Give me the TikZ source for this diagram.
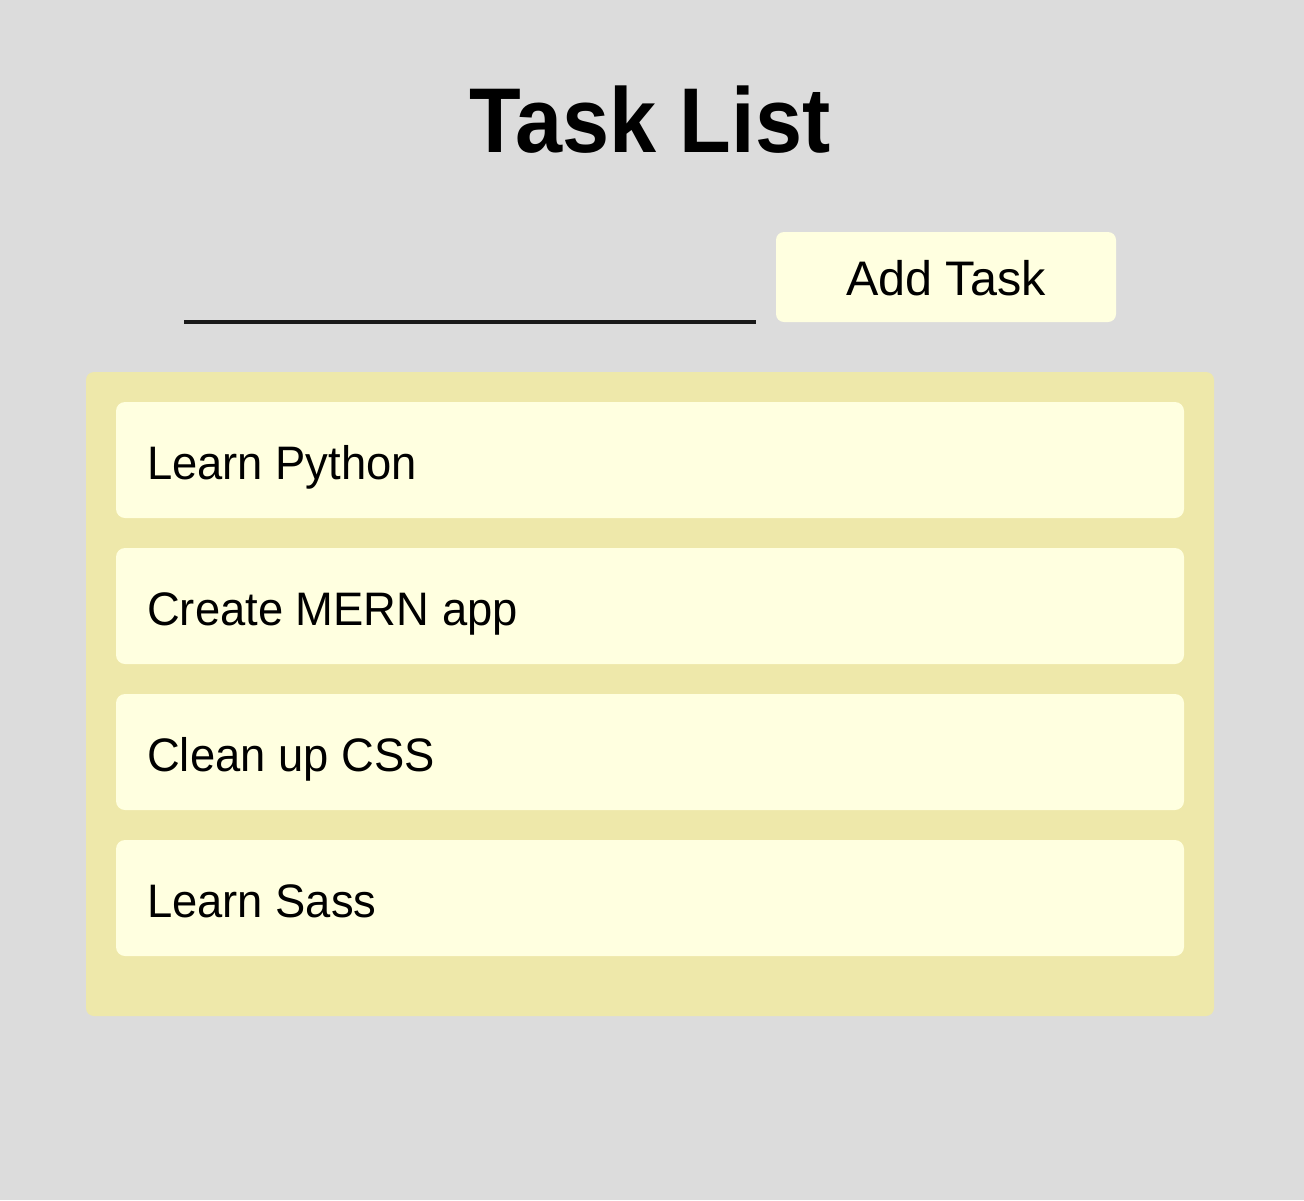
\documentclass[tikz,border=0pt]{standalone}
\usepackage{fontspec}
\setmainfont{Liberation Sans}
\definecolor{bg}{HTML}{DCDCDC}
\definecolor{pgold}{HTML}{EEE8AA}
\definecolor{lyellow}{HTML}{FFFFE0}
\definecolor{inkline}{HTML}{1A1A1A}
\newcommand{\itemsq}[1]{\scalebox{0.965}[1]{#1}}
\begin{document}
\begin{tikzpicture}[x=1pt,y=-1pt,
  panel/.style={fill=pgold,rounded corners=8pt},
  itembox/.style={fill=lyellow,rounded corners=9pt},
  itemtext/.style={anchor=base west,inner sep=0pt,font=\fontsize{47}{56}\selectfont},
  btntext/.style={anchor=base,inner sep=0pt,font=\fontsize{48.5}{58}\selectfont},
  titletext/.style={anchor=base,inner sep=0pt,font=\fontsize{92}{110}\selectfont\bfseries}]
\fill[bg] (0,0) rectangle (1304,1200);
\useasboundingbox (0,0) rectangle (1304,1200);
% title
\node[titletext] (title) at (650,152) {\scalebox{0.92}[1]{Task List}};
% input underline
\coordinate (inL) at (184,322);
\coordinate (inR) at (756,322);
\draw[inkline,line width=4pt] (inL) -- (inR);
% button
\fill[itembox,rounded corners=8pt] (776,232) rectangle (1116,322);
\node[btntext] (btn) at (946,295) {Add Task};
% panel
\fill[panel] (86,372) rectangle (1214,1016);
% items
\fill[itembox] (116,402) rectangle (1184,518);
\node[itemtext] (t1) at (147,479) {\itemsq{Learn Python}};
\fill[itembox] (116,548) rectangle (1184,664);
\node[itemtext] (t2) at (147,625) {\itemsq{Create MERN app}};
\fill[itembox] (116,694) rectangle (1184,810);
\node[itemtext] (t3) at (147,771) {\itemsq{Clean up CSS}};
\fill[itembox] (116,840) rectangle (1184,956);
\node[itemtext] (t4) at (147,917) {\itemsq{Learn Sass}};
\end{tikzpicture}
\end{document}
